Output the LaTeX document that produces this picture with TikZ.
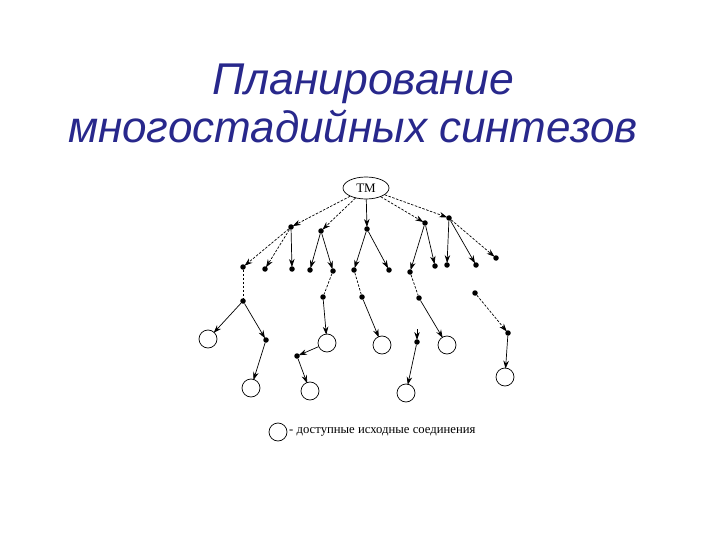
\documentclass[tikz,border=0pt]{standalone}
\usepackage{fontspec}
\setmainfont{Liberation Serif}
\newfontfamily\titlefont{Liberation Sans}
\usetikzlibrary{arrows.meta,shapes.geometric}
\definecolor{titleblue}{RGB}{40,40,140}
\begin{document}
\begin{tikzpicture}[x=1pt,y=-1pt,
  dot/.style={circle,fill=black,inner sep=0pt,minimum size=5.5pt},
  src/.style={circle,draw=black,line width=0.7pt,inner sep=0pt,minimum size=18pt},
  arr/.style={-{Stealth[length=8pt,width=5.5pt]},line width=0.7pt,shorten >=-1pt},
  darr/.style={arr,dash pattern=on 2.5pt off 1.5pt},
  dln/.style={line width=0.7pt,dash pattern=on 2.5pt off 1.5pt}]
\useasboundingbox (0,0) rectangle (720,540);
% title
\node[text=titleblue,anchor=base] (t1) at (363,95) {\fontsize{44.5}{54}\selectfont\titlefont\itshape Планирование};
\node[text=titleblue,anchor=base] (t2) at (353,143) {\fontsize{44}{54}\selectfont\titlefont\itshape многостадийных синтезов};
% root
\node[ellipse,draw,line width=0.7pt,minimum width=46pt,minimum height=22pt,inner sep=0pt] (tm) at (366,188) {\fontsize{13}{15}\selectfont TM};
% level 1
\node[dot] (a) at (291,227) {};
\node[dot] (b) at (321,231) {};
\node[dot] (c) at (367,229) {};
\node[dot] (d) at (425,223) {};
\node[dot] (e) at (449,218) {};
% level 2
\node[dot] (a1) at (243,267) {};
\node[dot] (a2) at (265,269) {};
\node[dot] (a3) at (292,269) {};
\node[dot] (b1) at (310,270) {};
\node[dot] (b2) at (333,271) {};
\node[dot] (c1) at (354,270) {};
\node[dot] (c2) at (389,270) {};
\node[dot] (d1) at (410,272) {};
\node[dot] (d2) at (435,266) {};
\node[dot] (e1) at (447,265) {};
\node[dot] (e2) at (476,265) {};
\node[dot] (e3) at (496,258) {};
% level 3
\node[dot] (p1) at (243,301) {};
\node[dot] (q1) at (266,340) {};
\node[src] (r1) at (208,339) {};
\node[src] (s1) at (251,388) {};
\node[dot] (p2) at (323,297) {};
\node[src] (r2) at (327,343) {};
\node[dot] (q2) at (297,356) {};
\node[src] (s2) at (310,391) {};
\node[dot] (p3) at (362,297) {};
\node[src] (r3) at (382,345) {};
\node[dot] (p4) at (419,298) {};
\node[src] (r4) at (447,345) {};
\coordinate (st) at (417,329);
\node[dot] (q5) at (417,342) {};
\node[src] (s5) at (406,393) {};
\node[dot] (p6) at (475,293) {};
\node[dot] (q6) at (508,333) {};
\node[src] (r6) at (505,377) {};
% edges level 1
\draw[darr] (tm) -- (a);
\draw[darr] (tm) -- (b);
\draw[arr] (tm) -- (c);
\draw[darr] (tm) -- (d);
\draw[darr] (tm) -- (e);
% edges level 2
\draw[darr] (a) -- (a1);
\draw[darr] (a) -- (a2);
\draw[arr] (a) -- (a3);
\draw[arr] (b) -- (b1);
\draw[arr] (b) -- (b2);
\draw[arr] (c) -- (c1);
\draw[arr] (c) -- (c2);
\draw[arr] (d) -- (d1);
\draw[arr] (d) -- (d2);
\draw[arr] (e) -- (e1);
\draw[arr] (e) -- (e2);
\draw[darr] (e) -- (e3);
% lower
\draw[dln] (a1) -- (p1);
\draw[arr] (p1) -- (r1);
\draw[arr] (p1) -- (q1);
\draw[arr] (q1) -- (s1);
\draw[dln] (b2) -- (p2);
\draw[arr] (p2) -- (r2);
\draw[arr] (r2) -- (q2);
\draw[arr] (q2) -- (s2);
\draw[dln] (c1) -- (p3);
\draw[arr] (p3) -- (r3);
\draw[dln] (d1) -- (p4);
\draw[arr] (p4) -- (r4);
\draw[arr] (st) -- (q5);
\draw[arr] (q5) -- (s5);
\draw[darr] (p6) -- (q6);
\draw[arr] (q6) -- (r6);
% legend
\node[src] (lg) at (278,432) {};
\node[anchor=west,inner sep=0pt] (lt) at (289,432) {\fontsize{12.7}{15}\selectfont - доступные исходные соединения};
\end{tikzpicture}
\end{document}
